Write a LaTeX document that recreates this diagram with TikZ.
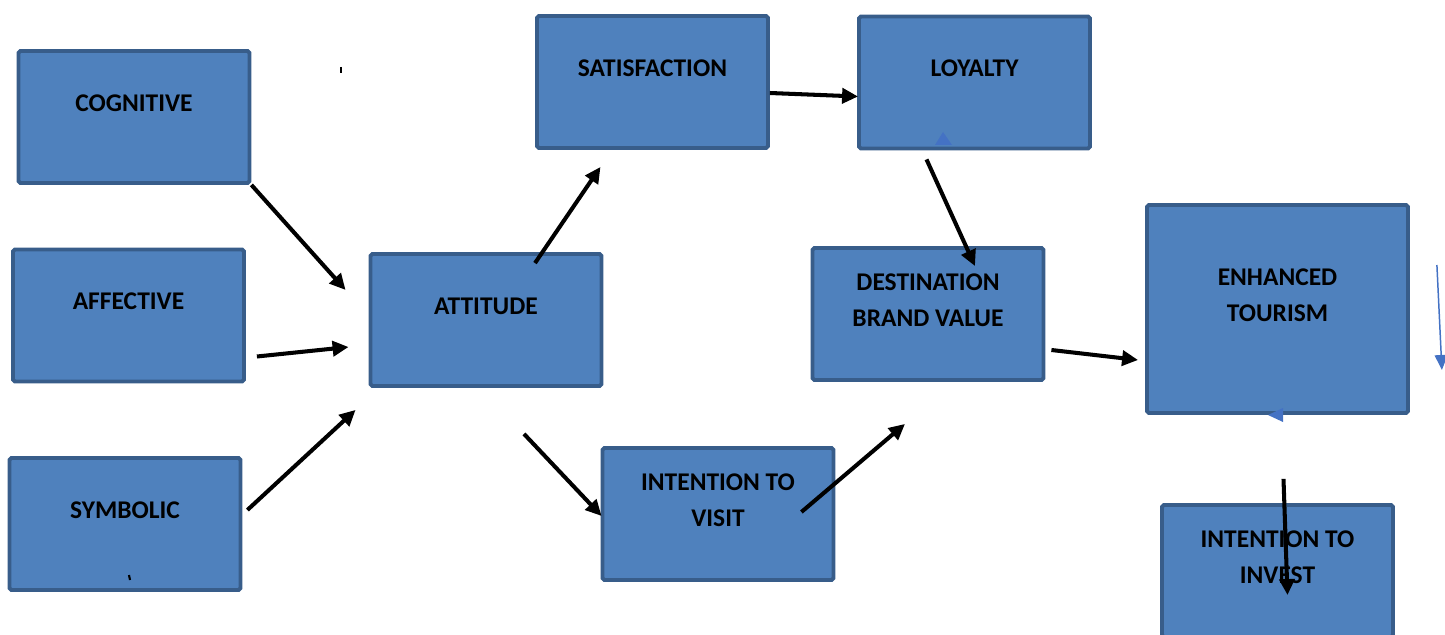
\documentclass[tikz,border=0pt]{standalone}
\usepackage{fontspec}
\setmainfont{Carlito}
\usetikzlibrary{arrows.meta}
\definecolor{boxfill}{HTML}{4F81BD}
\definecolor{boxline}{HTML}{385D8A}
\definecolor{thinblue}{HTML}{4472C4}
\begin{document}
\begin{tikzpicture}[x=0.02cm,y=-0.02cm]
\tikzstyle{box}=[draw=boxline,fill=boxfill,line width=2.2pt,rounded corners=1pt,minimum width=4.62cm,minimum height=2.64cm,inner sep=0pt]
\tikzstyle{lbl}=[font=\fontsize{14.5}{20.5}\selectfont\bfseries,align=center,inner sep=0pt]
\tikzstyle{arrow}=[line width=2.3pt,-{Triangle[length=0.32cm,width=0.3cm]}]
\useasboundingbox (0,0) rectangle (1445,635);
\node[box] (cog) at (134,117) {};
\node[box] (aff) at (128.5,315.5) {};
\node[box] (sym) at (125,524) {};
\node[box] (att) at (486,320) {};
\node[box] (sat) at (652.5,82) {};
\node[box] (loy) at (974.5,82.5) {};
\node[box] (dbv) at (928,314) {};
\node[box] (itv) at (718,514) {};
\node[box,minimum width=5.22cm,minimum height=4.16cm] (enh) at (1277.5,309) {};
\node[box] (inv) at (1277.5,571) {};
\node[lbl] (cog-t) at ([shift={(0,-14)}]cog.center) {COGNITIVE};
\node[lbl] (aff-t) at ([shift={(0,-14)}]aff.center) {AFFECTIVE};
\node[lbl] (sym-t) at ([shift={(0,-14)}]sym.center) {SYMBOLIC};
\node[lbl] (att-t) at ([shift={(0,-14)}]att.center) {ATTITUDE};
\node[lbl] (sat-t) at ([shift={(0,-14)}]sat.center) {SATISFACTION};
\node[lbl] (loy-t) at ([shift={(0,-14)}]loy.center) {LOYALTY};
\node[lbl] (dbv-t) at ([shift={(0,-14)}]dbv.center) {DESTINATION\\BRAND VALUE};
\node[lbl] (itv-t) at ([shift={(0,-14)}]itv.center) {INTENTION TO\\VISIT};
\node[lbl] (enh-t) at ([shift={(0,-14)}]enh.center) {ENHANCED\\TOURISM};
\node[lbl] (inv-t) at ([shift={(0,-14)}]inv.center) {INTENTION TO\\INVEST};
\draw[arrow] (cog.south east) -- ([shift={(-23,-30)}]att.west);
\draw[arrow] ([shift={(11,41)}]aff.east) -- ([shift={(-20,27)}]att.west);
\draw[arrow] ([shift={(5,-14)}]sym.east) -- ([shift={(-13,22)}]att.south west);
\draw[arrow] ([shift={(49,11)}]att.north) -- ([shift={(-52,17)}]sat.south);
\draw[arrow] ([shift={(38,46)}]att.south) -- ([shift={(1,2)}]itv.west);
\draw[arrow] ([shift={(0,11)}]sat.east) -- ([shift={(1,14)}]loy.west);
\draw[arrow] ([shift={(-48,9)}]loy.south) -- ([shift={(47,20)}]dbv.north);
\draw[arrow] ([shift={(-34,-2)}]itv.east) -- ([shift={(-23,42)}]dbv.south);
\draw[arrow] ([shift={(6,36)}]dbv.east) -- ([shift={(-7,51)}]enh.west);
\draw[arrow] ([shift={(6,64)}]enh.south) -- ([shift={(10,92)}]inv.north);
\draw[thinblue,line width=0.85pt,-{Triangle[length=0.3cm,width=0.26cm]}] ([shift={(27,-44)}]enh.east) -- ([shift={(32,61)}]enh.east);
\fill[thinblue] (943,132) -- (952,145) -- (935,145) -- cycle;
\fill[thinblue] (1268,415) -- (1283,408) -- (1283,422) -- cycle;
\draw[line width=1.4pt] (341,67) -- (341,73);
\draw[line width=1.2pt] (129,575) -- (130,580);
\end{tikzpicture}
\end{document}
